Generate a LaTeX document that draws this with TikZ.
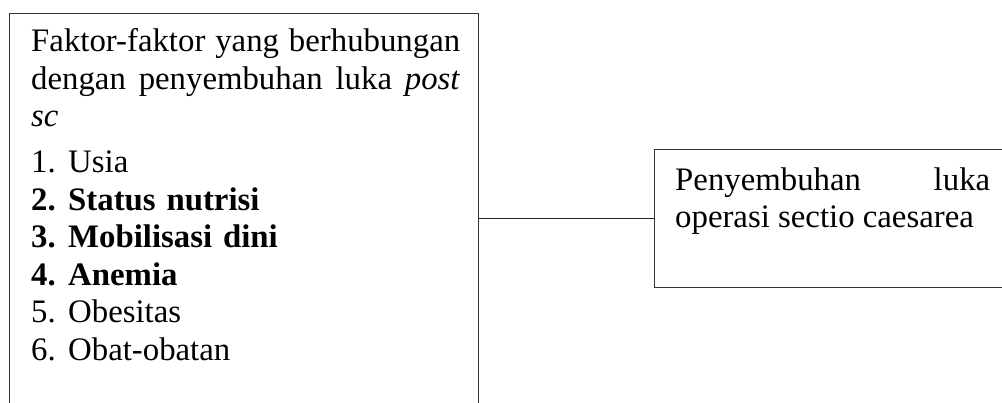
\documentclass[tikz,border=0pt]{standalone}
\usepackage{fontspec}
\setmainfont{Liberation Serif}
\tikzset{
  framebox/.style={draw=black!80, line width=1.4pt},
  txt/.style={inner sep=0pt, anchor=base west, font=\fontsize{32.8}{37.5}\selectfont, align=justify},
  link/.style={draw=black!85, line width=1.4pt}
}
\begin{document}
\begin{tikzpicture}[x=1pt,y=-1pt]
\useasboundingbox (0,0) rectangle (1002,403);
\clip (0,0) rectangle (1002,403);
% left box (bottom runs past the page)
\node[framebox, anchor=north west, minimum width=469pt, minimum height=440pt, inner sep=0pt] (factors) at (9,12.7) {};
\node[txt, text width=429pt] (intro) at (31,52) {Faktor-faktor yang berhubungan\linebreak dengan penyembuhan luka \textit{post}\linebreak \textit{sc}};
\node[txt, text width=429pt, align=left] (list) at (31,173) {%
\makebox[37pt][l]{1.}Usia\\
\textbf{\makebox[37pt][l]{2.}Status nutrisi}\\
\textbf{\makebox[37pt][l]{3.}Mobilisasi dini}\\
\textbf{\makebox[37pt][l]{4.}Anemia}\\
\makebox[37pt][l]{5.}Obesitas\\
\makebox[37pt][l]{6.}Obat-obatan};
% right box (right side runs past the page)
\node[framebox, anchor=north west, minimum width=400pt, minimum height=138pt, inner sep=0pt] (outcome) at (654,149) {};
\node[txt, text width=315pt] (otext) at (675,190.5) {Penyembuhan luka\linebreak operasi sectio caesarea};
% connector
\draw[link] (outcome.west) -- (outcome.west -| factors.east);
\end{tikzpicture}
\end{document}
